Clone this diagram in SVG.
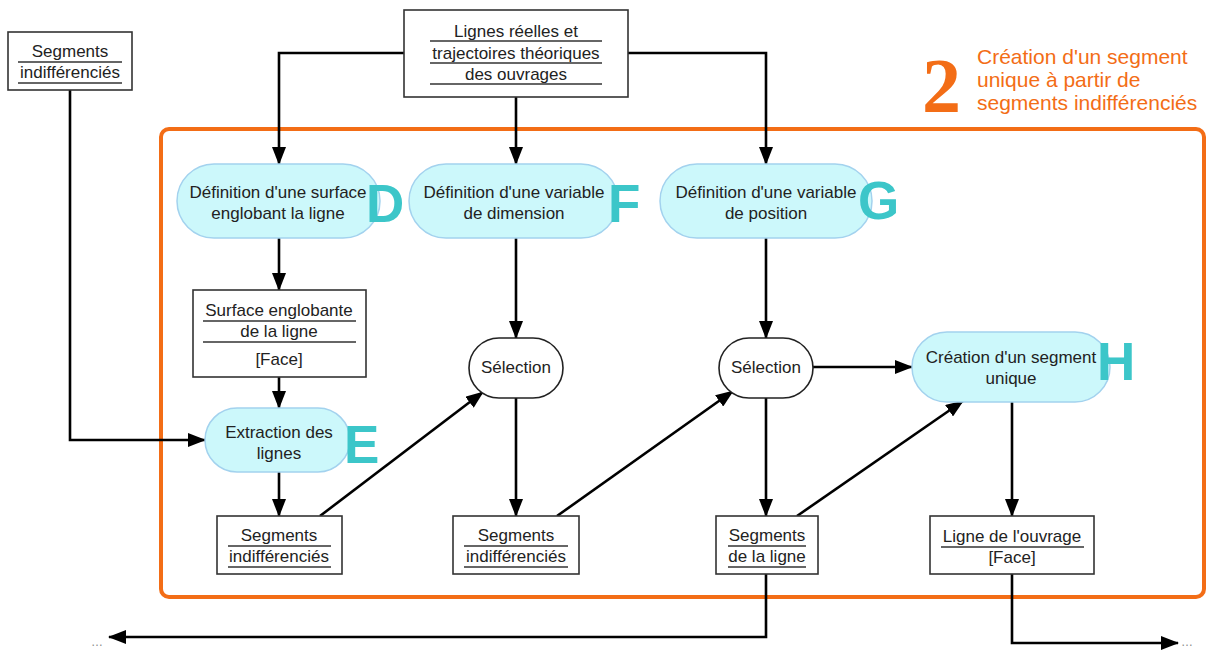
<svg xmlns="http://www.w3.org/2000/svg" width="1207" height="650" viewBox="0 0 1207 650">
<defs>
<marker id="ah" viewBox="0 0 18 14" refX="17" refY="7" markerWidth="18" markerHeight="14" markerUnits="userSpaceOnUse" orient="auto">
<path d="M0,0 L18,7 L0,14 z" fill="#000"/>
</marker>
</defs>
<style>
.t{font-family:"Liberation Sans",Arial,sans-serif;font-size:17px;fill:#222;text-anchor:middle}
.box{fill:#fff;stroke:#333;stroke-width:1.6}
.ul{stroke:#333;stroke-width:1.4}
.pill{fill:#ccf8fb;stroke:#a3d2ee;stroke-width:1.5}
.sel{fill:#fff;stroke:#222;stroke-width:1.6}
.big{font-family:"Liberation Sans",Arial,sans-serif;font-weight:bold;font-size:53px;fill:#3cc6c9}
.or{font-family:"Liberation Sans",Arial,sans-serif;font-size:21px;fill:#f36d16}
.c{fill:none;stroke:#000;stroke-width:2.6}
.ca{fill:none;stroke:#000;stroke-width:2.6;marker-end:url(#ah)}
.dots{font-family:"Liberation Sans",Arial,sans-serif;font-size:12px;fill:#888}
</style>
<rect width="1207" height="650" fill="#fff"/>

<g id="frame">
<rect x="161" y="129" width="1043" height="468" rx="8" fill="none" stroke="#f36d16" stroke-width="4"/>
<text x="922" y="112" style="font-family:'Liberation Serif','Times New Roman',serif;font-weight:bold;font-size:78px;fill:#f36d16">2</text>
<text class="or" x="977" y="64">Création d'un segment</text>
<text class="or" x="977" y="87">unique à partir de</text>
<text class="or" x="977" y="110">segments indifférenciés</text>
</g>

<g id="connectors">
<polyline class="ca" points="70,90 70,440 205,440"/>
<polyline class="ca" points="404,53 279,53 279,164"/>
<polyline class="ca" points="516,97 516,164"/>
<polyline class="ca" points="628,53 766,53 766,164"/>
<line class="ca" x1="279" y1="238" x2="279" y2="290"/>
<line class="ca" x1="279" y1="377" x2="279" y2="408"/>
<line class="ca" x1="279" y1="472" x2="279" y2="516"/>
<line class="ca" x1="516" y1="238" x2="516" y2="338"/>
<line class="ca" x1="766" y1="238" x2="766" y2="338"/>
<line class="ca" x1="516" y1="398" x2="516" y2="516"/>
<line class="ca" x1="766" y1="398" x2="766" y2="516"/>
<line class="ca" x1="813" y1="367" x2="912" y2="367"/>
<line class="ca" x1="1012" y1="402" x2="1012" y2="516"/>
<line class="ca" x1="320" y1="516" x2="483" y2="392"/>
<line class="ca" x1="557" y1="516" x2="733" y2="391"/>
<line class="ca" x1="797" y1="516" x2="963" y2="401"/>
<polyline class="ca" points="766,574 766,637 109,637"/>
<polyline class="ca" points="1012,574 1012,643 1178,643"/>
<text class="dots" x="91" y="646">…</text>
<text class="dots" x="1181" y="646">…</text>
</g>

<g id="n-seg-top">
<rect class="box" x="8" y="32" width="124" height="58"/>
<text class="t" x="70" y="57">Segments</text>
<line class="ul" x1="18" y1="62" x2="122" y2="62"/>
<text class="t" x="70" y="78">indifférenciés</text>
<line class="ul" x1="18" y1="83" x2="122" y2="83"/>
</g>

<g id="n-lignes">
<rect class="box" x="404" y="10" width="224" height="87"/>
<text class="t" x="516" y="37">Lignes réelles et</text>
<line class="ul" x1="430" y1="41" x2="602" y2="41"/>
<text class="t" x="516" y="59">trajectoires théoriques</text>
<line class="ul" x1="430" y1="63" x2="602" y2="63"/>
<text class="t" x="516" y="80">des ouvrages</text>
<line class="ul" x1="430" y1="84" x2="602" y2="84"/>
</g>

<g id="n-D">
<rect class="pill" x="177" y="164" width="203" height="74" rx="37"/>
<text class="t" x="278" y="198">Définition d'une surface</text>
<text class="t" x="278" y="219">englobant la ligne</text>
<text class="big" x="366" y="222">D</text>
</g>

<g id="n-F">
<rect class="pill" x="409" y="164" width="209" height="74" rx="37"/>
<text class="t" x="514" y="198">Définition d'une variable</text>
<text class="t" x="514" y="219">de dimension</text>
<text class="big" x="608" y="222">F</text>
</g>

<g id="n-G">
<rect class="pill" x="660" y="164" width="212" height="74" rx="37"/>
<text class="t" x="766" y="198">Définition d'une variable</text>
<text class="t" x="766" y="219">de position</text>
<text class="big" x="858" y="219">G</text>
</g>

<g id="n-surface">
<rect class="box" x="193" y="290" width="173" height="87"/>
<text class="t" x="279" y="316">Surface englobante</text>
<line class="ul" x1="203" y1="321" x2="356" y2="321"/>
<text class="t" x="279" y="337">de la ligne</text>
<line class="ul" x1="203" y1="342" x2="356" y2="342"/>
<text class="t" x="279" y="365">[Face]</text>
</g>

<g id="n-E">
<rect class="pill" x="205" y="408" width="145" height="64" rx="32"/>
<text class="t" x="279" y="438">Extraction des</text>
<text class="t" x="279" y="459">lignes</text>
<text class="big" x="344" y="463">E</text>
</g>

<g id="n-sel1">
<rect class="sel" x="469" y="338" width="94" height="60" rx="30"/>
<text class="t" x="516" y="373">Sélection</text>
</g>

<g id="n-sel2">
<rect class="sel" x="719" y="338" width="94" height="60" rx="30"/>
<text class="t" x="766" y="373">Sélection</text>
</g>

<g id="n-H">
<rect class="pill" x="912" y="332" width="198" height="70" rx="35"/>
<text class="t" x="1011" y="363">Création d'un segment</text>
<text class="t" x="1011" y="384">unique</text>
<text class="big" x="1097" y="380">H</text>
</g>

<g id="n-seg1">
<rect class="box" x="217" y="516" width="125" height="58"/>
<text class="t" x="279" y="541">Segments</text>
<line class="ul" x1="228" y1="546" x2="331" y2="546"/>
<text class="t" x="279" y="562">indifférenciés</text>
<line class="ul" x1="228" y1="567" x2="331" y2="567"/>
</g>

<g id="n-seg2">
<rect class="box" x="453" y="516" width="126" height="58"/>
<text class="t" x="516" y="541">Segments</text>
<line class="ul" x1="464" y1="546" x2="568" y2="546"/>
<text class="t" x="516" y="562">indifférenciés</text>
<line class="ul" x1="464" y1="567" x2="568" y2="567"/>
</g>

<g id="n-seg3">
<rect class="box" x="716" y="516" width="102" height="58"/>
<text class="t" x="767" y="541">Segments</text>
<line class="ul" x1="728" y1="546" x2="806" y2="546"/>
<text class="t" x="767" y="562">de la ligne</text>
<line class="ul" x1="728" y1="567" x2="806" y2="567"/>
</g>

<g id="n-ligne">
<rect class="box" x="930" y="516" width="164" height="58"/>
<text class="t" x="1012" y="542">Ligne de l'ouvrage</text>
<line class="ul" x1="941" y1="547" x2="1084" y2="547"/>
<text class="t" x="1012" y="563">[Face]</text>
</g>
</svg>
